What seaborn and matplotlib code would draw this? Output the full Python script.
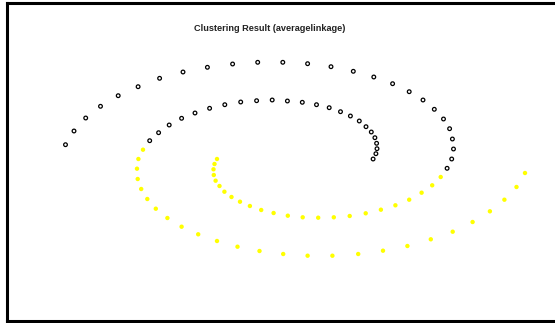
import matplotlib
matplotlib.use("Agg")
import matplotlib.pyplot as plt
import seaborn as sns
import pandas as pd

# Cluster 1 (black, open circles): outer arm of one spiral + inner arm of the other
c1_x = [65.5, 74.0, 85.7, 100.5, 118.2, 138.1, 159.6, 183.0, 207.4, 232.6, 257.7, 282.8,
        307.6, 331.0, 353.3, 373.8, 392.6, 409.2, 423.0, 434.3, 443.5, 449.6, 452.4, 453.5,
        451.7, 447.1,
        373.1, 375.9, 377.0, 376.6, 374.9, 371.3, 366.0, 359.3, 350.4, 340.5, 329.2, 316.5,
        302.3, 287.4, 272.2, 256.6, 240.7, 224.8, 209.6, 195.0, 181.6, 169.2, 158.6, 149.7]
c1_y = [144.7, 131.0, 118.0, 106.3, 95.7, 86.7, 78.3, 72.0, 67.3, 64.0, 62.3, 62.3,
        63.7, 66.7, 71.3, 77.0, 83.7, 91.7, 100.0, 109.3, 119.0, 128.7, 139.0, 149.0,
        159.0, 168.3,
        159.0, 153.7, 148.7, 143.3, 137.7, 132.0, 126.7, 121.0, 116.0, 111.7, 107.7, 104.7,
        102.3, 101.0, 100.0, 100.7, 102.0, 104.7, 108.3, 113.0, 118.3, 125.0, 132.7, 140.7]

# Cluster 2 (yellow, filled dots)
c2_x = [143.0, 138.4, 137.0, 137.7, 141.2, 147.3, 155.8, 167.4, 181.6, 198.2, 217.0, 237.5,
        259.5, 283.2, 307.6, 332.4, 358.2, 383.0, 407.4, 430.8, 452.7, 472.6, 489.9, 504.4,
        516.5, 525.0,
        217.0, 214.5, 213.5, 213.8, 215.6, 219.5, 224.4, 231.5, 240.0, 249.9, 261.2, 273.6,
        287.8, 302.7, 318.2, 333.8, 349.7, 365.7, 380.9, 395.4, 409.2, 421.6, 432.2, 440.7]
c2_y = [149.7, 159.0, 168.7, 179.0, 189.0, 199.0, 208.7, 218.0, 226.7, 234.3, 241.0, 246.7,
        251.0, 254.0, 255.7, 255.7, 254.0, 250.7, 246.0, 239.3, 231.7, 222.0, 211.3, 199.7,
        187.0, 173.0,
        159.0, 164.0, 169.3, 175.0, 180.7, 186.0, 191.7, 197.0, 201.7, 206.0, 210.0, 213.0,
        215.7, 217.3, 217.7, 217.3, 216.0, 213.3, 209.7, 205.3, 199.7, 192.7, 185.3, 177.0]

title_text = "Clustering Result (averagelinkage)"

df1 = pd.DataFrame({"x": c1_x, "y": c1_y})
df2 = pd.DataFrame({"x": c2_x, "y": c2_y})

sns.set_style("white")
plt.rcParams["font.family"] = ["Liberation Sans", "DejaVu Sans"]

W, H = 555, 323
fig = plt.figure(figsize=(W / 100, H / 100), dpi=100)
fig.patch.set_facecolor("white")

# framed panel: left edge at x=7, top at y=3, bottom at y=321, right side runs off the canvas
left, top, bottom = 7.0, 3.0, 321.0
right = W + 10
ax = fig.add_axes([left / W, (H - bottom) / H, (right - left) / W, (bottom - top) / H])
ax.set_xlim(left, right)
ax.set_ylim(bottom, top)

sns.scatterplot(data=df1, x="x", y="y", ax=ax, marker="o", s=7,
                facecolors="none", edgecolor="black", linewidth=0.9)
sns.scatterplot(data=df2, x="x", y="y", ax=ax, marker="o", s=10,
                color="#FFFF00", edgecolor="none", linewidth=0)

ax.set_xticks([])
ax.set_yticks([])
ax.set_xlabel("")
ax.set_ylabel("")
for side in ["left", "top", "bottom"]:
    ax.spines[side].set_visible(True)
    ax.spines[side].set_color("black")
    ax.spines[side].set_linewidth(2.2)
ax.spines["right"].set_visible(False)

fig.text(270 / W, 1 - 28.5 / H, title_text, ha="center", va="center",
         fontsize=6.6, fontweight="bold", color="#222222")

fig.savefig("out.png", dpi=100)
